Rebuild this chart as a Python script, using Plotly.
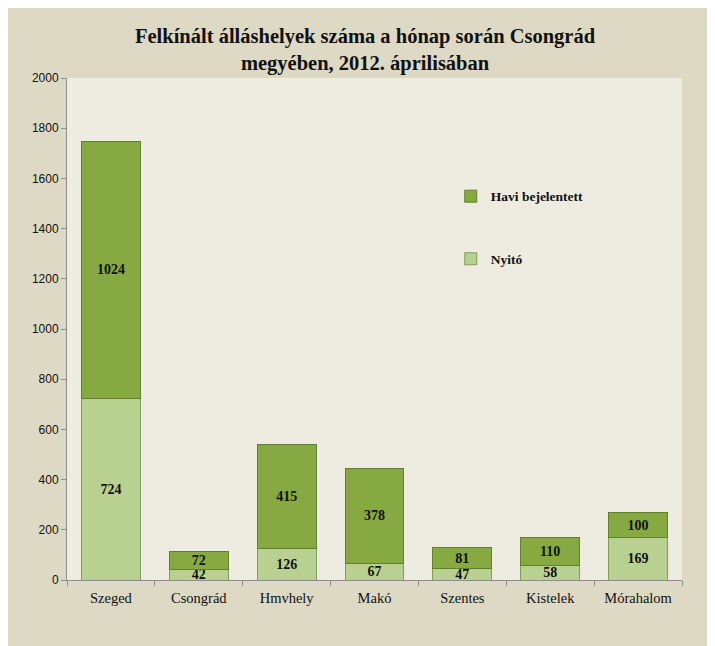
import plotly.graph_objects as go

categories = ["Szeged", "Csongrád", "Hmvhely", "Makó", "Szentes", "Kistelek", "Mórahalom"]
nyito = [724, 42, 126, 67, 47, 58, 169]
havi = [1024, 72, 415, 378, 81, 110, 100]
y_ticks = [0, 200, 400, 600, 800, 1000, 1200, 1400, 1600, 1800, 2000]

serif = "Liberation Serif, Times New Roman, serif"
sans = "Liberation Sans, Arial, sans-serif"

fig = go.Figure()
fig.add_trace(go.Bar(
    x=categories, y=nyito, name="<b>Nyitó</b>",
    marker=dict(color="#b9d190", line=dict(color="#819c55", width=1)),
    text=nyito, legendgroup="b", legendrank=2,
))
fig.add_trace(go.Bar(
    x=categories, y=havi, name="<b>Havi bejelentett</b>",
    marker=dict(color="#86aa41", line=dict(color="#627f2e", width=1)),
    text=havi, legendgroup="a", legendrank=1,
))

fig.update_traces(
    texttemplate="<b>%{text}</b>", textposition="inside", insidetextanchor="middle",
    textangle=0, constraintext="none", cliponaxis=False,
    textfont=dict(family=serif, size=14, color="#111111"),
)

fig.update_layout(
    width=707, height=638,
    barmode="stack", bargap=0.33,
    paper_bgcolor="#ddd9c4", plot_bgcolor="#eeece1",
    margin=dict(l=59, r=33, t=70, b=66),
    uniformtext=dict(minsize=14, mode="show"),
    title=dict(
        text="<b>Felkínált álláshelyek száma a hónap során Csongrád<br>megyében, 2012. áprilisában</b>",
        x=0.505, xanchor="center", y=0.945, yanchor="top",
        font=dict(family=serif, size=20.5, color="#111111"),
    ),
    xaxis=dict(
        showgrid=False, showline=True, linecolor="#8c8c8c", linewidth=1,
        ticks="outside", ticklen=5, tickcolor="#8c8c8c",
        tickson="boundaries", ticklabelstandoff=5,
        tickfont=dict(family=serif, size=14.5, color="#111111"),
    ),
    yaxis=dict(
        range=[0, 2000], tickvals=y_ticks, showgrid=False, zeroline=False,
        showline=True, linecolor="#8c8c8c", linewidth=1,
        ticks="outside", ticklen=5, tickcolor="#8c8c8c",
        tickfont=dict(family=sans, size=12, color="#111111"),
    ),
    legend=dict(
        x=0.624, y=0.795, xanchor="left", yanchor="top",
        traceorder="grouped", tracegroupgap=42,
        bgcolor="rgba(0,0,0,0)",
        font=dict(family=serif, size=13.5, color="#111111"),
    ),
    showlegend=True,
)

fig.write_html("out.html")
